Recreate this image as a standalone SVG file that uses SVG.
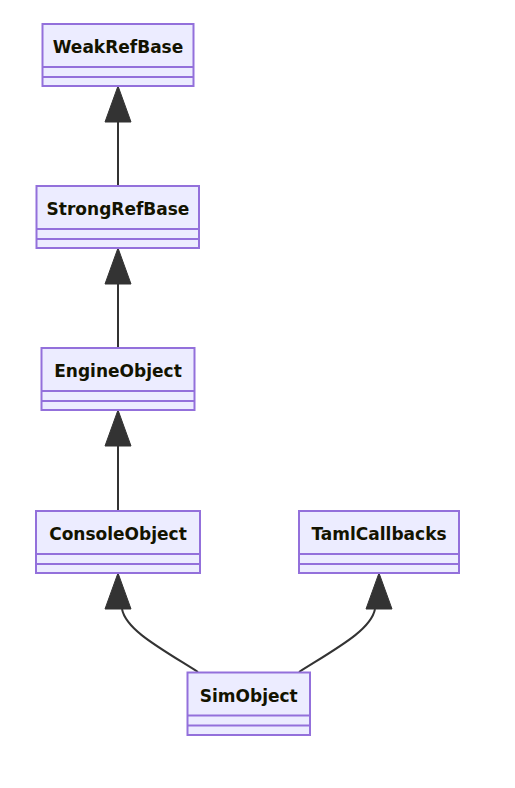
<svg xmlns="http://www.w3.org/2000/svg" width="515" height="788" viewBox="0 0 515 788">
<style>
.box{fill:#ECECFF;stroke:#9370DB;stroke-width:2}
.div{stroke:#9370DB;stroke-width:2;fill:none}
.lbl{font-family:"DejaVu Sans",Verdana,sans-serif;font-size:17px;font-weight:bold;fill:#131300;text-anchor:middle}
.edge{stroke:#333333;stroke-width:2;fill:none}
.head{fill:#333333;stroke:#333333;stroke-width:1}
</style>
<rect width="515" height="788" fill="#ffffff"/>
<g id="connectors">
<path class="edge" d="M118,122 L118,186"/>
<polygon class="head" points="118,86 131,122 105,122"/>
<path class="edge" d="M118,284 L118,348"/>
<polygon class="head" points="118,248 131,284 105,284"/>
<path class="edge" d="M118,446 L118,511"/>
<polygon class="head" points="118,410 131,446 105,446"/>
<path class="edge" d="M198,672 C160,648 126,630 122,609"/>
<polygon class="head" points="118,573 131,609 105,609"/>
<path class="edge" d="M299,672 C337,648 371,630 375,609"/>
<polygon class="head" points="379,573 392,609 366,609"/>
</g>
<g id="WeakRefBase">
<rect class="box" x="42.5" y="24" width="151" height="62"/>
<path class="div" d="M42.5,67 H193.5 M42.5,77 H193.5"/>
<text class="lbl" x="118" y="53">WeakRefBase</text>
</g>
<g id="StrongRefBase">
<rect class="box" x="36.5" y="186" width="162.5" height="62"/>
<path class="div" d="M36.5,229 H199 M36.5,239 H199"/>
<text class="lbl" x="118" y="215">StrongRefBase</text>
</g>
<g id="EngineObject">
<rect class="box" x="41.5" y="348" width="153" height="62"/>
<path class="div" d="M41.5,391 H194.5 M41.5,401 H194.5"/>
<text class="lbl" x="118" y="377">EngineObject</text>
</g>
<g id="ConsoleObject">
<rect class="box" x="36" y="511" width="164" height="62"/>
<path class="div" d="M36,554 H200 M36,564 H200"/>
<text class="lbl" x="118" y="540">ConsoleObject</text>
</g>
<g id="TamlCallbacks">
<rect class="box" x="299" y="511" width="160" height="62"/>
<path class="div" d="M299,554 H459 M299,564 H459"/>
<text class="lbl" x="379" y="540">TamlCallbacks</text>
</g>
<g id="SimObject">
<rect class="box" x="187.5" y="672.5" width="122.5" height="62.5"/>
<path class="div" d="M187.5,715.5 H310 M187.5,725.5 H310"/>
<text class="lbl" x="248.75" y="701.5">SimObject</text>
</g>
</svg>
